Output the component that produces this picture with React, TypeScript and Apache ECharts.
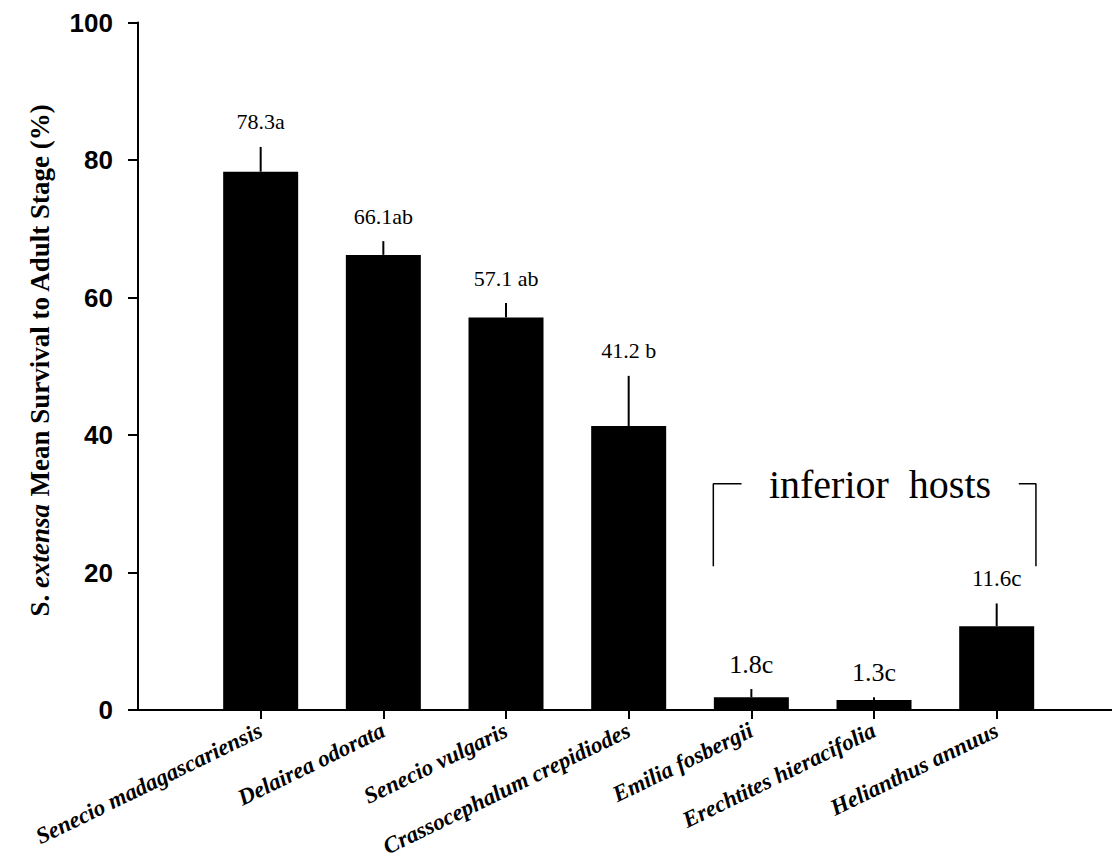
import React, { useEffect, useRef } from "react";
import * as echarts from "echarts";

const categories = [
  "Senecio madagascariensis",
  "Delairea odorata",
  "Senecio vulgaris",
  "Crassocephalum crepidiodes",
  "Emilia fosbergii",
  "Erechtites hieracifolia",
  "Helianthus annuus",
];
const means = [78.3, 66.2, 57.1, 41.3, 1.85, 1.45, 12.2];
const errors = [3.6, 2.0, 2.1, 7.3, 1.2, 0.4, 3.3];
const valueLabels = ["78.3a", "66.1ab", "57.1 ab", "41.2 b", "1.8c", "1.3c", "11.6c"];
const yTicks = [0, 20, 40, 60, 80, 100];
const positions = [1, 2, 3, 4, 5, 6, 7];
const bracketLeft = [[4.69, 20.9], [4.69, 32.9], [4.92, 32.9]];
const bracketRight = [[7.18, 32.9], [7.32, 32.9], [7.32, 20.9]];
const bracketText = "inferior  hosts";

const labelFontSizes = [22, 22, 22, 22, 26, 26, 23];

const SERIF = '"Liberation Serif", "Times New Roman", serif';
const SANS = '"Liberation Sans", Arial, sans-serif';

export default function App() {
  const ref = useRef<HTMLDivElement>(null);
  useEffect(() => {
    if (!ref.current) return;
    const chart = echarts.init(ref.current, null, { renderer: "svg" });
    const option: any = {
      animation: false,
      backgroundColor: "#fff",
      grid: { left: 138, right: 0, top: 22.5, bottom: 153 },
      xAxis: {
        type: "value",
        min: 0,
        max: 7.94,
        interval: 1,
        splitLine: { show: false },
        axisLine: { show: true, lineStyle: { color: "#000", width: 2 } },
        axisTick: {
          show: true,
          customValues: positions,
          length: 9,
          lineStyle: { color: "#000", width: 2 },
        },
        axisLabel: {
          customValues: positions,
          formatter: (v: number) => categories[Math.round(v) - 1] ?? "",
          rotate: 26,
          margin: 19,
          color: "#000",
          fontFamily: SERIF,
          fontSize: 23,
          fontStyle: "italic",
          fontWeight: "bold",
        },
      },
      yAxis: {
        type: "value",
        min: yTicks[0],
        max: yTicks[yTicks.length - 1],
        interval: 20,
        splitLine: { show: false },
        axisLine: { show: true, lineStyle: { color: "#000", width: 2 } },
        axisTick: { show: true, length: 10, lineStyle: { color: "#000", width: 2 } },
        axisLabel: {
          margin: 25,
          color: "#000",
          fontFamily: SANS,
          fontSize: 26,
          fontWeight: "bold",
        },
      },
      series: [
        {
          type: "bar",
          data: means.map((v, i) => [positions[i], v]),
          barWidth: 75,
          itemStyle: { color: "#000" },
          z: 2,
        },
        {
          type: "custom",
          data: means.map((v, i) => [positions[i], v, errors[i], i]),
          z: 3,
          renderItem: (params: any, api: any) => {
            const x = api.value(0);
            const m = api.value(1);
            const e = api.value(2);
            const idx = api.value(3);
            const p0 = api.coord([x, m]);
            const p1 = api.coord([x, m + e]);
            return {
              type: "group",
              children: [
                {
                  type: "line",
                  shape: { x1: p0[0], y1: p0[1], x2: p1[0], y2: p1[1] },
                  style: { stroke: "#000", lineWidth: 2 },
                },
                {
                  type: "text",
                  style: {
                    text: valueLabels[idx],
                    x: p1[0],
                    y: p1[1] - 25,
                    align: "center",
                    verticalAlign: "middle",
                    fontFamily: SERIF,
                    fontSize: labelFontSizes[idx],
                    fill: "#000",
                  },
                },
              ],
            };
          },
        },
        {
          type: "line",
          data: bracketLeft,
          symbol: "none",
          lineStyle: { color: "#000", width: 1.5 },
          z: 4,
        },
        {
          type: "line",
          data: bracketRight,
          symbol: "none",
          lineStyle: { color: "#000", width: 1.5 },
          z: 4,
        },
      ],
      graphic: [
        {
          type: "text",
          x: 40,
          y: 360,
          rotation: Math.PI / 2,
          style: {
            text: "{a|S. }{b|extensa}{a| Mean Survival to Adult Stage (%)}",
            align: "center",
            verticalAlign: "middle",
            fill: "#000",
            rich: {
              a: { fontFamily: SERIF, fontWeight: "bold", fontSize: 27, fill: "#000" },
              b: { fontFamily: SERIF, fontWeight: "bold", fontStyle: "italic", fontSize: 27, fill: "#000" },
            },
          },
        },
        {
          type: "text",
          x: 880,
          y: 484,
          style: {
            text: bracketText,
            align: "center",
            verticalAlign: "middle",
            fontFamily: SERIF,
            fontSize: 40,
            fill: "#000",
          },
        },
      ],
    };
    chart.setOption(option);
    return () => chart.dispose();
  }, []);
  return (
    <div
      ref={ref}
      style={{ position: "fixed", left: 0, top: 0, width: 1112, height: 863, background: "#fff" }}
    />
  );
}
